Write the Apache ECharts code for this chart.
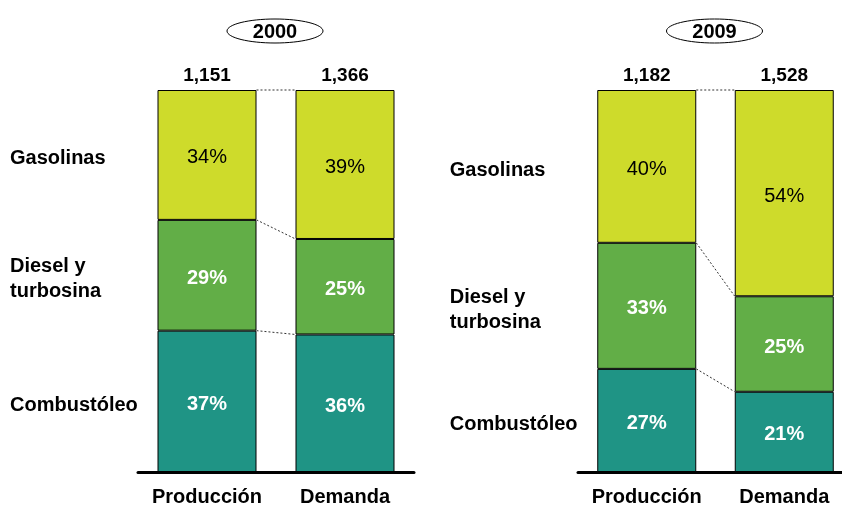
<!DOCTYPE html>
<html>
<head>
<meta charset="utf-8">
<script src="https://cdn.jsdelivr.net/npm/echarts@6/dist/echarts.min.js"></script>
<style>
  html, body { margin: 0; padding: 0; background: #fff; }
  #chart { width: 842px; height: 507px; }
</style>
</head>
<body>
<div id="chart"></div>
<script>
// Oferta y demanda de petrolíferos: mezcla por producto (%) y volumen total
const categories = ['Producción', 'Demanda'];
const years = ['2000', '2009'];
const totals = [[1151, 1366], [1182, 1528]];
const gasolinas = [[34, 39], [40, 54]];
const diesel = [[29, 25], [33, 25]];
const combustoleo = [[37, 36], [27, 21]];
const productNames = ['Combustóleo', 'Diesel y\nturbosina', 'Gasolinas'];

const FONT = '"Liberation Sans", Arial, Helvetica, sans-serif';
const COLORS = { gas: '#cedb2b', diesel: '#62ae47', comb: '#1f9485' };
const BAR_W = 99;
const grids = [
  { left: 138, top: 90, width: 276, height: 382, outerBoundsMode: 'none' },
  { left: 578, top: 90, width: 275, height: 382, outerBoundsMode: 'none' }
];

const chart = echarts.init(document.getElementById('chart'), null, { renderer: 'canvas' });

const xAxes = [];
const yAxes = [];
const series = [];

grids.forEach((g, p) => {
  xAxes.push({
    type: 'category', gridIndex: p, data: categories, position: 'bottom',
    axisLine: { lineStyle: { color: '#000', width: 3 } },
    axisTick: { show: false },
    axisLabel: { interval: 0, color: '#000', fontSize: 20, fontWeight: 'bold', fontFamily: FONT, margin: 15, hideOverlap: false }
  });
  xAxes.push({
    type: 'category', gridIndex: p, data: totals[p].map(v => v.toLocaleString('en-US')), position: 'top',
    axisLine: { show: false }, axisTick: { show: false },
    axisLabel: { interval: 0, color: '#000', fontSize: 19, fontWeight: 'bold', fontFamily: FONT, margin: 5 }
  });
  yAxes.push({ type: 'value', gridIndex: p, min: 0, max: 100, show: false, splitLine: { show: false } });

  const layers = [
    { data: combustoleo[p], color: COLORS.comb, text: '#fff', weight: 'bold' },
    { data: diesel[p], color: COLORS.diesel, text: '#fff', weight: 'bold' },
    { data: gasolinas[p], color: COLORS.gas, text: '#000', weight: 'normal' }
  ];
  layers.forEach((l, i) => {
    series.push({
      type: 'bar', name: productNames[i], xAxisIndex: p * 2, yAxisIndex: p, stack: 'p' + p,
      barWidth: BAR_W, data: l.data,
      itemStyle: { color: l.color, borderColor: '#000', borderWidth: 1 },
      label: {
        show: true, position: 'inside', formatter: '{c}%', offset: [0, 3],
        color: l.text, fontSize: 20, fontWeight: l.weight, fontFamily: FONT
      },
      emphasis: { disabled: true }, silent: true
    });
  });

  // dashed connectors between segment boundaries of the two bars
  const c1 = [combustoleo[p][0], combustoleo[p][1]];
  const c2 = [c1[0] + diesel[p][0], c1[1] + diesel[p][1]];
  const c3 = [c2[0] + gasolinas[p][0], c2[1] + gasolinas[p][1]];
  series.push({
    type: 'custom', xAxisIndex: p * 2, yAxisIndex: p, silent: true,
    encode: { x: 0, y: [1, 2] },
    data: [[0, c1[0], c1[1]], [0, c2[0], c2[1]], [0, c3[0], c3[1]]],
    renderItem: (params, api) => {
      const a = api.coord([0, api.value(1)]);
      const b = api.coord([1, api.value(2)]);
      return {
        type: 'line',
        shape: { x1: a[0] + BAR_W / 2, y1: a[1], x2: b[0] - BAR_W / 2, y2: b[1] },
        style: { stroke: '#333', lineWidth: 1, lineDash: [2, 2] }
      };
    },
    z: 1
  });

  // product names, aligned with the production bar segments
  const mids = [c1[0] / 2, (c1[0] + c2[0]) / 2, (c2[0] + c3[0]) / 2];
  series.push({
    type: 'custom', xAxisIndex: p * 2, yAxisIndex: p, silent: true,
    encode: { x: 0, y: 1 },
    data: mids.map((m, i) => [0, m, i]),
    renderItem: (params, api) => {
      const pt = api.coord([0, api.value(1)]);
      return {
        type: 'text',
        x: pt[0] - 197, y: pt[1] + 4,
        style: {
          text: productNames[api.value(2)], fill: '#000',
          font: 'bold 20px ' + FONT, align: 'left', verticalAlign: 'middle', lineHeight: 25
        }
      };
    }
  });
});

// year badges above each panel
const badges = years.map((y, p) => {
  const cx = grids[p].left + grids[p].width / 2 - 1;
  return {
    type: 'group', x: cx, y: 31,
    children: [
      { type: 'ellipse', shape: { cx: 0, cy: 0, rx: 48, ry: 12 }, style: { fill: '#fff', stroke: '#000', lineWidth: 1 } },
      { type: 'text', x: 0, y: 1, style: { text: y, font: 'bold 20px ' + FONT, fill: '#000', align: 'center', verticalAlign: 'middle' } }
    ]
  };
});

chart.setOption({
  animation: false,
  backgroundColor: '#fff',
  grid: grids,
  xAxis: xAxes,
  yAxis: yAxes,
  series: series,
  graphic: badges
});
</script>
</body>
</html>
